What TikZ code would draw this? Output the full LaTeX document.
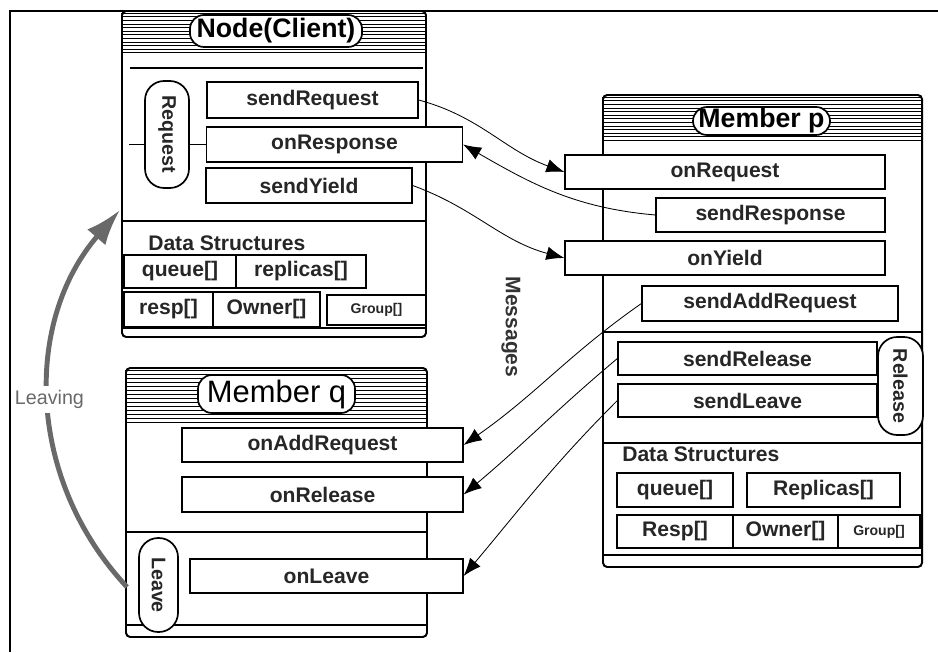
\documentclass[tikz,border=0pt]{standalone}
\usepackage{fontspec}
\setmainfont{Liberation Sans}
\usetikzlibrary{arrows.meta}
\definecolor{leavegray}{RGB}{105,105,105}

\begin{document}
\begin{tikzpicture}[
  classbox/.style={rectangle, draw, line width=1.4pt, rounded corners=3pt},
  hdrline/.style={line width=0.6pt},
  sepline/.style={line width=1pt},
  title/.style={rectangle, draw, fill=white, line width=1.2pt, rounded corners=0.35cm, inner sep=0pt},
  method/.style={rectangle, draw, fill=white, line width=0.9pt, inner sep=0pt, text=black!85, font=\fontsize{15}{18}\selectfont\bfseries},
  pill/.style={rectangle, draw, fill=white, line width=1.2pt, rounded corners=0.48cm, rotate=-90, inner sep=0pt, text=black!85, font=\fontsize{14}{16}\selectfont\bfseries},
  msg/.style={-{Latex[length=4.5mm,width=3.4mm]}, line width=0.6pt},
  leaving/.style={-{Latex[length=9mm,width=6mm]}, line width=3.5pt, leavegray},
]
  \useasboundingbox (0,0) rectangle (23.45,16.3);
  % Frame
  \draw[line width=0.8pt] (0.25,0) -- (0.25,16.025) -- (23.45,16.025);

  % Node(Client)
  \node (nc) [classbox, minimum width=7.6cm, minimum height=8.15cm] at (6.85,11.95) {};
  \foreach \d in {0.08,0.17,...,1.1}
    \draw[hdrline] (nc.north west) ++(0,-\d) -- ++(7.6,0);
  \node (ncTitle) [title, minimum width=4.3cm, minimum height=0.8cm, font=\fontsize{19}{20}\selectfont\bfseries] at (6.9,15.525) {Node(Client)};
  \draw[sepline] (3.25,14.6) -- (10.575,14.6);
  \draw[sepline] (3.05,10.775) -- (10.65,10.775);
  \draw[sepline] (3.05,8.1) -- (10.65,8.1);
  \node (sendReq) [method, minimum width=5.275cm, minimum height=0.9cm] at (7.8125,13.8) {sendRequest};
  \node (onResp) [method, minimum width=6.4cm, minimum height=0.875cm] at (8.3625,12.6875) {onResponse};
  \node (sendYield) [method, minimum width=5.15cm, minimum height=0.875cm] at (7.725,11.6625) {sendYield};
  \draw[line width=0.8pt] (onResp.west) -- ++(-1.925,0);
  \node (request) [pill, minimum width=2.675cm, minimum height=1.1cm] at (4.175,12.9375) {Request};
  \node (ncData) [anchor=west, inner sep=0pt, text=black!85, font=\fontsize{15}{18}\selectfont\bfseries] at (3.7,10.225) {Data Structures};
  \node (ncQueue) [method, minimum width=2.8cm, minimum height=0.825cm] at (4.5,9.5125) {queue[]};
  \node (ncRepl) [method, minimum width=3.25cm, minimum height=0.825cm] at (7.525,9.5125) {replicas[]};
  \node (ncResp) [method, minimum width=2.225cm, minimum height=0.875cm] at (4.2125,8.5625) {resp[]};
  \node (ncOwner) [method, minimum width=2.675cm, minimum height=0.875cm] at (6.6625,8.5625) {Owner[]};
  \node (ncGroup) [method, minimum width=2.475cm, minimum height=0.75cm, font=\fontsize{10}{12}\selectfont\bfseries] at (9.4125,8.55) {Group[]};

  % Member p
  \node (mp) [classbox, minimum width=7.975cm, minimum height=11.8cm] at (19.0625,8.025) {};
  \foreach \d in {0.08,0.17,...,1.22}
    \draw[hdrline] (mp.north west) ++(0,-\d) -- ++(7.975,0);
  \node (mpTitle) [title, minimum width=3.425cm, minimum height=0.7cm, font=\fontsize{19}{20}\selectfont\bfseries] at (19.0375,13.275) {Member p};
  \draw[sepline] (15.075,8.0) -- (23.05,8.0);
  \draw[sepline] (15.075,5.225) -- (23.05,5.225);
  \draw[sepline] (15.075,2.425) -- (23.05,2.425);
  \node (onReq) [method, minimum width=8cm, minimum height=0.85cm] at (18.125,12.0) {onRequest};
  \node (sendResp) [method, minimum width=5.725cm, minimum height=0.85cm] at (19.2625,10.925) {sendResponse};
  \node (onYield) [method, minimum width=8cm, minimum height=0.85cm] at (18.125,9.85) {onYield};
  \node (sendAdd) [method, minimum width=6.4cm, minimum height=0.875cm] at (19.25,8.7125) {sendAddRequest};
  \node (sendRel) [method, minimum width=6.475cm, minimum height=0.825cm] at (18.6875,7.3375) {sendRelease};
  \node (sendLeave) [method, minimum width=6.475cm, minimum height=0.825cm] at (18.6875,6.2875) {sendLeave};
  \node (release) [pill, minimum width=2.45cm, minimum height=1.125cm] at (22.5125,6.65) {Release};
  \node (mpData) [anchor=west, inner sep=0pt, text=black!85, font=\fontsize{15}{18}\selectfont\bfseries] at (15.55,4.95) {Data Structures};
  \node (mpQueue) [method, minimum width=2.9cm, minimum height=0.85cm] at (16.875,4.05) {queue[]};
  \node (mpRepl) [method, minimum width=3.825cm, minimum height=0.85cm] at (20.5875,4.05) {Replicas[]};
  \node (mpResp) [method, minimum width=2.9cm, minimum height=0.825cm] at (16.875,3.0125) {Resp[]};
  \node (mpOwner) [method, minimum width=2.625cm, minimum height=0.825cm] at (19.6375,3.0125) {Owner[]};
  \node (mpGroup) [method, minimum width=2.05cm, minimum height=0.825cm, font=\fontsize{10}{12}\selectfont\bfseries] at (21.975,3.0125) {Group[]};

  % Member q
  \node (mq) [classbox, minimum width=7.525cm, minimum height=6.725cm] at (6.9125,3.7375) {};
  \foreach \d in {0.08,0.18,...,1.4}
    \draw[hdrline] (mq.north west) ++(0,-\d) -- ++(7.525,0);
  \node (mqTitle) [title, minimum width=3.925cm, minimum height=0.95cm, font=\fontsize{22}{24}\selectfont] at (6.9125,6.45) {Member q};
  \draw[sepline] (3.15,3.0) -- (10.675,3.0);
  \draw[sepline] (3.15,0.675) -- (10.675,0.675);
  \node (onAdd) [method, minimum width=7.025cm, minimum height=0.85cm] at (8.0625,5.175) {onAddRequest};
  \node (onRel) [method, minimum width=7.025cm, minimum height=0.875cm] at (8.0625,3.9375) {onRelease};
  \node (onLeave) [method, minimum width=6.825cm, minimum height=0.85cm] at (8.1625,1.9) {onLeave};
  \node (leave) [pill, minimum width=2.35cm, minimum height=0.975cm] at (3.9625,1.675) {Leave};

  % Messages
  \node (msgs) [rotate=-90, text=black!80, font=\fontsize{15}{16}\selectfont\bfseries] at (12.775,8.125) {Messages};
  \draw[msg] (sendReq.east) to[out=-15,in=160] (onReq.west);
  \draw[msg] (sendResp.west) to[out=175,in=-30] (onResp.east);
  \draw[msg] (sendYield.east) to[out=-20,in=165] (onYield.west);
  \draw[msg] (sendAdd.west) to[out=215,in=35] (onAdd.east);
  \draw[msg] (sendRel.west) to[out=220,in=40] (onRel.east);
  \draw[msg] (sendLeave.west) to[out=225,in=50] (onLeave.east);

  % Leaving
  \coordinate (leaveFrom) at (3.175,1.625);
  \coordinate (leaveTo) at (3.0,11.05);
  \draw[leaving] (leaveFrom) to[bend left=42] node[fill=white, inner sep=3pt, text=leavegray, font=\fontsize{14}{16}\selectfont] {Leaving} (leaveTo);
\end{tikzpicture}
\end{document}
